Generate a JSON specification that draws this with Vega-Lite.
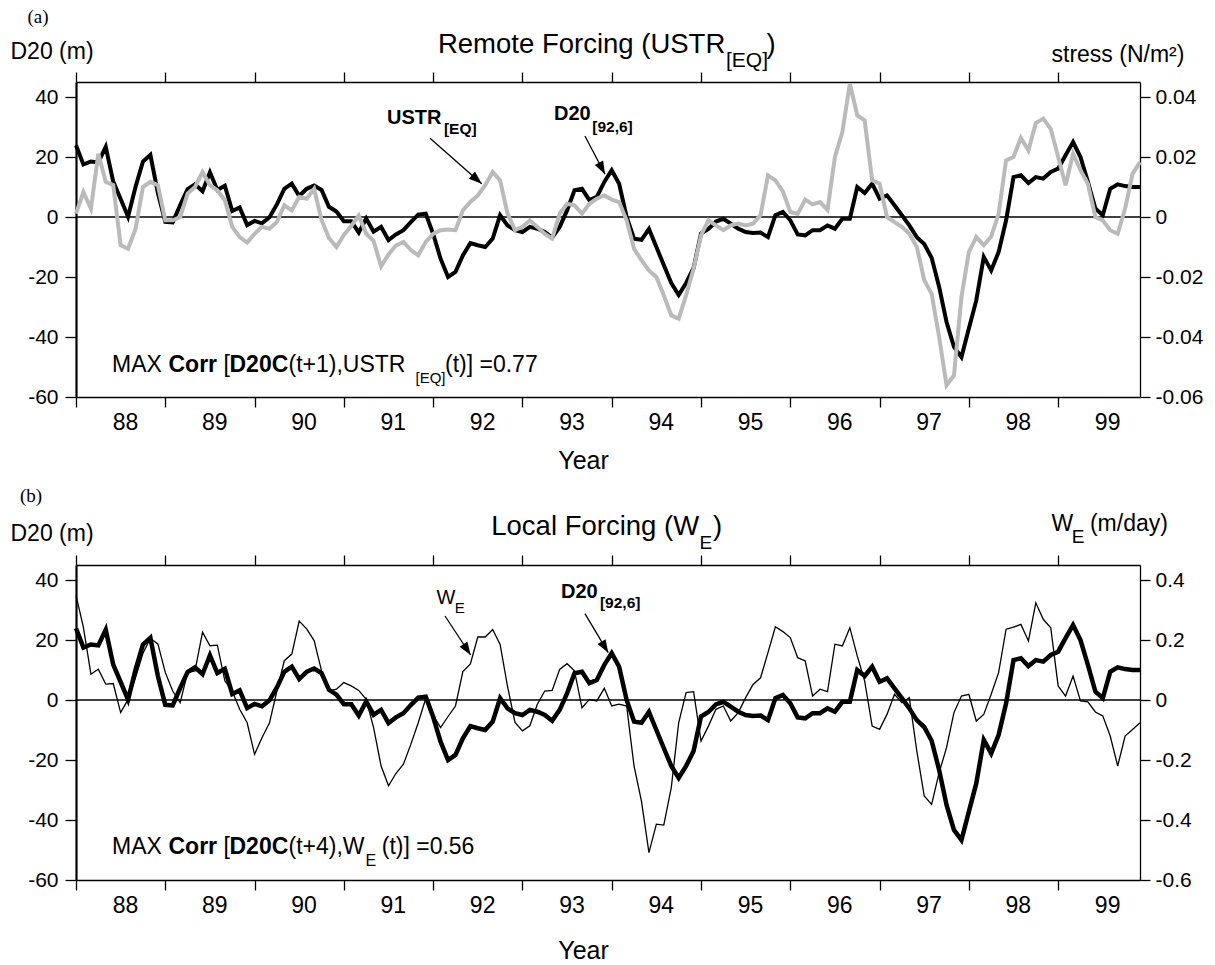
{
  "$schema": "https://vega.github.io/schema/vega-lite/v6.json",
  "background": "white",
  "padding": {"left": 10, "top": 7, "right": 5, "bottom": 5},
  "autosize": {"type": "pad"},
  "spacing": 168,
  "bounds": "flush",
  "datasets": {
    "monthly": [
      {"t":1988.000,"d20":23.9,"ustr":0.0011,"we":0.349},
      {"t":1988.083,"d20":17.5,"ustr":0.0083,"we":0.242},
      {"t":1988.167,"d20":18.5,"ustr":0.0028,"we":0.086},
      {"t":1988.250,"d20":18.2,"ustr":0.0211,"we":0.103},
      {"t":1988.333,"d20":23.4,"ustr":0.0117,"we":0.053},
      {"t":1988.417,"d20":11.8,"ustr":0.0106,"we":0.055},
      {"t":1988.500,"d20":6.0,"ustr":-0.0094,"we":-0.042},
      {"t":1988.583,"d20":0.1,"ustr":-0.0106,"we":0.002},
      {"t":1988.667,"d20":10.1,"ustr":-0.0039,"we":0.075},
      {"t":1988.750,"d20":18.5,"ustr":0.0100,"we":0.156},
      {"t":1988.833,"d20":20.7,"ustr":0.0117,"we":0.205},
      {"t":1988.917,"d20":8.0,"ustr":0.0106,"we":0.187},
      {"t":1989.000,"d20":-1.6,"ustr":-0.0011,"we":0.092},
      {"t":1989.083,"d20":-1.8,"ustr":-0.0011,"we":0.030},
      {"t":1989.167,"d20":4.0,"ustr":0.0000,"we":-0.009},
      {"t":1989.250,"d20":9.3,"ustr":0.0078,"we":0.092},
      {"t":1989.333,"d20":10.9,"ustr":0.0100,"we":0.097},
      {"t":1989.417,"d20":8.6,"ustr":0.0150,"we":0.226},
      {"t":1989.500,"d20":14.9,"ustr":0.0106,"we":0.181},
      {"t":1989.583,"d20":9.0,"ustr":0.0089,"we":0.183},
      {"t":1989.667,"d20":10.4,"ustr":0.0056,"we":0.064},
      {"t":1989.750,"d20":2.0,"ustr":-0.0033,"we":0.030},
      {"t":1989.833,"d20":3.2,"ustr":-0.0067,"we":-0.031},
      {"t":1989.917,"d20":-2.7,"ustr":-0.0085,"we":-0.076},
      {"t":1990.000,"d20":-1.3,"ustr":-0.0056,"we":-0.181},
      {"t":1990.083,"d20":-2.1,"ustr":-0.0033,"we":-0.126},
      {"t":1990.167,"d20":-0.1,"ustr":-0.0039,"we":-0.076},
      {"t":1990.250,"d20":4.2,"ustr":-0.0017,"we":0.030},
      {"t":1990.333,"d20":9.4,"ustr":0.0039,"we":0.131},
      {"t":1990.417,"d20":11.1,"ustr":0.0022,"we":0.153},
      {"t":1990.500,"d20":7.0,"ustr":0.0067,"we":0.263},
      {"t":1990.583,"d20":9.4,"ustr":0.0061,"we":0.237},
      {"t":1990.667,"d20":10.5,"ustr":0.0094,"we":0.198},
      {"t":1990.750,"d20":9.0,"ustr":-0.0010,"we":0.097},
      {"t":1990.833,"d20":3.4,"ustr":-0.0070,"we":0.030},
      {"t":1990.917,"d20":1.8,"ustr":-0.0100,"we":0.036},
      {"t":1991.000,"d20":-1.4,"ustr":-0.0060,"we":0.058},
      {"t":1991.083,"d20":-1.4,"ustr":-0.0030,"we":0.047},
      {"t":1991.167,"d20":-5.2,"ustr":0.0005,"we":0.032},
      {"t":1991.250,"d20":-0.5,"ustr":-0.0055,"we":0.002},
      {"t":1991.333,"d20":-4.9,"ustr":-0.0080,"we":-0.092},
      {"t":1991.417,"d20":-3.3,"ustr":-0.0165,"we":-0.220},
      {"t":1991.500,"d20":-7.7,"ustr":-0.0125,"we":-0.286},
      {"t":1991.583,"d20":-5.8,"ustr":-0.0095,"we":-0.245},
      {"t":1991.667,"d20":-4.4,"ustr":-0.0083,"we":-0.214},
      {"t":1991.750,"d20":-1.7,"ustr":-0.0110,"we":-0.148},
      {"t":1991.833,"d20":0.8,"ustr":-0.0128,"we":-0.076},
      {"t":1991.917,"d20":1.1,"ustr":-0.0083,"we":0.005},
      {"t":1992.000,"d20":-5.6,"ustr":-0.0056,"we":-0.050},
      {"t":1992.083,"d20":-13.9,"ustr":-0.0044,"we":-0.092},
      {"t":1992.167,"d20":-20.0,"ustr":-0.0042,"we":-0.055},
      {"t":1992.250,"d20":-18.3,"ustr":-0.0044,"we":-0.020},
      {"t":1992.333,"d20":-12.8,"ustr":0.0022,"we":0.095},
      {"t":1992.417,"d20":-8.7,"ustr":0.0050,"we":0.120},
      {"t":1992.500,"d20":-9.4,"ustr":0.0072,"we":0.210},
      {"t":1992.583,"d20":-10.0,"ustr":0.0106,"we":0.210},
      {"t":1992.667,"d20":-7.2,"ustr":0.0150,"we":0.235},
      {"t":1992.750,"d20":0.6,"ustr":0.0122,"we":0.185},
      {"t":1992.833,"d20":-2.8,"ustr":0.0011,"we":0.045},
      {"t":1992.917,"d20":-4.4,"ustr":-0.0044,"we":-0.075},
      {"t":1993.000,"d20":-5.0,"ustr":-0.0033,"we":-0.103},
      {"t":1993.083,"d20":-3.3,"ustr":-0.0011,"we":-0.086},
      {"t":1993.167,"d20":-3.9,"ustr":-0.0033,"we":-0.014},
      {"t":1993.250,"d20":-5.0,"ustr":-0.0056,"we":0.030},
      {"t":1993.333,"d20":-6.9,"ustr":-0.0072,"we":0.032},
      {"t":1993.417,"d20":-3.3,"ustr":0.0011,"we":0.102},
      {"t":1993.500,"d20":2.2,"ustr":0.0044,"we":0.121},
      {"t":1993.583,"d20":8.9,"ustr":0.0039,"we":0.097},
      {"t":1993.667,"d20":9.4,"ustr":0.0011,"we":-0.026},
      {"t":1993.750,"d20":5.6,"ustr":0.0044,"we":0.002},
      {"t":1993.833,"d20":6.7,"ustr":0.0061,"we":-0.003},
      {"t":1993.917,"d20":11.7,"ustr":0.0072,"we":0.039},
      {"t":1994.000,"d20":15.6,"ustr":0.0058,"we":-0.020},
      {"t":1994.083,"d20":11.1,"ustr":0.0050,"we":-0.014},
      {"t":1994.167,"d20":0.0,"ustr":-0.0011,"we":-0.020},
      {"t":1994.250,"d20":-7.2,"ustr":-0.0106,"we":-0.220},
      {"t":1994.333,"d20":-7.6,"ustr":-0.0144,"we":-0.337},
      {"t":1994.417,"d20":-4.0,"ustr":-0.0178,"we":-0.509},
      {"t":1994.500,"d20":-10.0,"ustr":-0.0200,"we":-0.414},
      {"t":1994.583,"d20":-16.0,"ustr":-0.0261,"we":-0.417},
      {"t":1994.667,"d20":-22.0,"ustr":-0.0328,"we":-0.292},
      {"t":1994.750,"d20":-26.0,"ustr":-0.0339,"we":-0.076},
      {"t":1994.833,"d20":-22.0,"ustr":-0.0261,"we":0.025},
      {"t":1994.917,"d20":-17.0,"ustr":-0.0172,"we":0.028},
      {"t":1995.000,"d20":-5.5,"ustr":-0.0061,"we":-0.137},
      {"t":1995.083,"d20":-4.0,"ustr":-0.0011,"we":-0.087},
      {"t":1995.167,"d20":-1.5,"ustr":-0.0028,"we":-0.031},
      {"t":1995.250,"d20":-0.6,"ustr":-0.0044,"we":-0.020},
      {"t":1995.333,"d20":-2.2,"ustr":-0.0028,"we":-0.070},
      {"t":1995.417,"d20":-3.9,"ustr":-0.0022,"we":-0.042},
      {"t":1995.500,"d20":-5.0,"ustr":-0.0028,"we":0.008},
      {"t":1995.583,"d20":-5.3,"ustr":-0.0022,"we":0.052},
      {"t":1995.667,"d20":-5.2,"ustr":0.0006,"we":0.074},
      {"t":1995.750,"d20":-6.7,"ustr":0.0139,"we":0.158},
      {"t":1995.833,"d20":0.6,"ustr":0.0122,"we":0.244},
      {"t":1995.917,"d20":1.7,"ustr":0.0085,"we":0.228},
      {"t":1996.000,"d20":-1.1,"ustr":0.0017,"we":0.208},
      {"t":1996.083,"d20":-5.8,"ustr":0.0010,"we":0.141},
      {"t":1996.167,"d20":-6.1,"ustr":0.0058,"we":0.130},
      {"t":1996.250,"d20":-4.4,"ustr":0.0042,"we":0.013},
      {"t":1996.333,"d20":-4.4,"ustr":0.0050,"we":0.036},
      {"t":1996.417,"d20":-2.8,"ustr":0.0024,"we":0.028},
      {"t":1996.500,"d20":-3.9,"ustr":0.0200,"we":0.186},
      {"t":1996.583,"d20":-0.6,"ustr":0.0283,"we":0.180},
      {"t":1996.667,"d20":-0.6,"ustr":0.0444,"we":0.241},
      {"t":1996.750,"d20":10.0,"ustr":0.0339,"we":0.147},
      {"t":1996.833,"d20":8.0,"ustr":0.0322,"we":0.063},
      {"t":1996.917,"d20":11.1,"ustr":0.0122,"we":-0.087},
      {"t":1997.000,"d20":6.1,"ustr":0.0111,"we":-0.098},
      {"t":1997.083,"d20":7.2,"ustr":0.0000,"we":-0.048},
      {"t":1997.167,"d20":3.9,"ustr":-0.0017,"we":0.019},
      {"t":1997.250,"d20":0.6,"ustr":-0.0033,"we":-0.009},
      {"t":1997.333,"d20":-2.8,"ustr":-0.0056,"we":0.008},
      {"t":1997.417,"d20":-6.7,"ustr":-0.0100,"we":-0.170},
      {"t":1997.500,"d20":-9.0,"ustr":-0.0210,"we":-0.320},
      {"t":1997.583,"d20":-13.6,"ustr":-0.0256,"we":-0.348},
      {"t":1997.667,"d20":-23.3,"ustr":-0.0400,"we":-0.242},
      {"t":1997.750,"d20":-35.0,"ustr":-0.0561,"we":-0.159},
      {"t":1997.833,"d20":-43.3,"ustr":-0.0528,"we":-0.042},
      {"t":1997.917,"d20":-46.7,"ustr":-0.0267,"we":0.013},
      {"t":1998.000,"d20":-37.2,"ustr":-0.0117,"we":0.019},
      {"t":1998.083,"d20":-27.8,"ustr":-0.0067,"we":-0.070},
      {"t":1998.167,"d20":-13.3,"ustr":-0.0094,"we":-0.048},
      {"t":1998.250,"d20":-17.8,"ustr":-0.0065,"we":0.019},
      {"t":1998.333,"d20":-11.7,"ustr":0.0011,"we":0.091},
      {"t":1998.417,"d20":-1.1,"ustr":0.0189,"we":0.236},
      {"t":1998.500,"d20":13.3,"ustr":0.0200,"we":0.243},
      {"t":1998.583,"d20":13.9,"ustr":0.0264,"we":0.252},
      {"t":1998.667,"d20":11.3,"ustr":0.0222,"we":0.197},
      {"t":1998.750,"d20":13.3,"ustr":0.0313,"we":0.324},
      {"t":1998.833,"d20":12.8,"ustr":0.0328,"we":0.269},
      {"t":1998.917,"d20":15.0,"ustr":0.0294,"we":0.241},
      {"t":1999.000,"d20":16.1,"ustr":0.0200,"we":0.047},
      {"t":1999.083,"d20":20.6,"ustr":0.0106,"we":0.013},
      {"t":1999.167,"d20":25.0,"ustr":0.0211,"we":0.080},
      {"t":1999.250,"d20":20.0,"ustr":0.0156,"we":-0.003},
      {"t":1999.333,"d20":11.7,"ustr":0.0111,"we":-0.006},
      {"t":1999.417,"d20":2.8,"ustr":0.0000,"we":-0.040},
      {"t":1999.500,"d20":0.6,"ustr":-0.0011,"we":-0.053},
      {"t":1999.583,"d20":9.4,"ustr":-0.0044,"we":-0.120},
      {"t":1999.667,"d20":10.9,"ustr":-0.0056,"we":-0.220},
      {"t":1999.750,"d20":10.3,"ustr":0.0028,"we":-0.120},
      {"t":1999.833,"d20":10.0,"ustr":0.0144,"we":-0.098},
      {"t":1999.917,"d20":10.0,"ustr":0.0183,"we":-0.076}
    ],
    "labels_a": [
      {"role":"tag","text":"(a)","t":1987.457,"v":64.77},
      {"role":"title","text":"Remote Forcing (USTR","t":1992.054,"v":54.6},
      {"role":"title","text":")","t":1995.733,"v":54.6},
      {"role":"title_sub","text":"[EQ]","t":1995.280,"v":50.1},
      {"role":"label","text":"USTR","t":1991.483,"v":30.9},
      {"role":"label","text":"D20","t":1993.353,"v":32.23},
      {"role":"label_sub","text":"[EQ]","t":1992.121,"v":27.77},
      {"role":"label_sub","text":"[92,6]","t":1993.782,"v":28.43},
      {"role":"note","text":"MAX","t":1988.403,"v":-51.57},
      {"role":"note_bold","text":"Corr","t":1989.036,"v":-51.57},
      {"role":"note","text":"[","t":1989.652,"v":-51.57},
      {"role":"note_bold","text":"D20C","t":1989.719,"v":-51.57},
      {"role":"note","text":"(t+1),USTR","t":1990.380,"v":-51.57},
      {"role":"note_sub","text":"[EQ]","t":1991.802,"v":-55.23},
      {"role":"note","text":"(t)] =0.77","t":1992.133,"v":-51.57}
    ],
    "labels_b": [
      {"role":"tag","text":"(b)","t":1987.373,"v":66.1},
      {"role":"title","text":"Local Forcing (W","t":1992.651,"v":54.9},
      {"role":"title","text":")","t":1995.134,"v":54.9},
      {"role":"title_sub","text":"E","t":1994.983,"v":50.43},
      {"role":"label_plain","text":"W","t":1992.037,"v":32.1},
      {"role":"label_plain_sub","text":"E","t":1992.242,"v":29.1},
      {"role":"label","text":"D20","t":1993.432,"v":33.9},
      {"role":"label_sub","text":"[92,6]","t":1993.868,"v":30.77},
      {"role":"note","text":"MAX","t":1988.403,"v":-51.43},
      {"role":"note_bold","text":"Corr","t":1989.036,"v":-51.43},
      {"role":"note","text":"[","t":1989.652,"v":-51.43},
      {"role":"note_bold","text":"D20C","t":1989.719,"v":-51.43},
      {"role":"note","text":"(t+4),W","t":1990.380,"v":-51.43},
      {"role":"note_sub","text":"E","t":1991.241,"v":-55.33},
      {"role":"note","text":"(t)] =0.56","t":1991.424,"v":-51.43},
      {"role":"unit","text":"W","t":1998.925,"v":56.33},
      {"role":"unit_sub","text":"E","t":1999.152,"v":52.43},
      {"role":"unit","text":"(m/day)","t":1999.356,"v":56.33}
    ],
    "arrows_a": [
      {"name":"ustr","t":1991.965,"v":26.23,"t2":1992.544,"v2":11.1},
      {"name":"d20","t":1993.700,"v":27.0,"t2":1993.925,"v2":14.23}
    ],
    "arrows_b": [
      {"name":"we","t":1992.133,"v":28.0,"t2":1992.420,"v2":15.0},
      {"name":"d20","t":1993.700,"v":28.77,"t2":1993.961,"v2":15.77}
    ]
  },
  "vconcat": [
    {
      "width": 1064,
      "height": 315,
      "layer": [
        {
          "layer": [
            {
              "data": {"values": [{}]},
              "mark": {"type": "rule", "color": "#000", "strokeWidth": 1.7},
              "encoding": {"y": {"datum": 0, "type": "quantitative", "scale": {"domain": [-60, 45], "nice": false, "zero": false}}}
            },
            {
              "data": {"name": "monthly"},
              "mark": {"type": "line", "color": "#000", "strokeWidth": 4},
              "encoding": {
                "x": {"field": "t", "type": "quantitative", "scale": {"domain": [1988, 1999.9167], "nice": false, "zero": false},
                  "axis": {"orient": "bottom", "values": [1988,1989,1990,1991,1992,1993,1994,1995,1996,1997,1998,1999], "labelExpr": "substring(toString(datum.value), 2)", "labelOffset": 49, "labelFontSize": 23, "labelBaseline": "alphabetic", "labelPadding": 22, "labelOverlap": false, "labelFlush": false, "labelBound": false, "tickSize": 10, "tickWidth": 1.3, "domainWidth": 1.7, "title": "Year", "titleFontSize": 25, "titleX": 507, "titleY": 71, "titleAlign": "center", "titleBaseline": "alphabetic"}},
                "y": {"field": "d20", "type": "quantitative", "scale": {"domain": [-60, 45], "nice": false, "zero": false},
                  "axis": {"orient": "left", "values": [-60,-40,-20,0,20,40], "labelExpr": "toString(datum.value)", "labelFontSize": 21, "labelPadding": 7, "labelFlush": false, "tickSize": 11, "tickWidth": 1.3, "domainWidth": 2.2, "title": "D20 (m)", "titleAngle": 0, "titleX": -66, "titleY": -24, "titleAlign": "left", "titleBaseline": "alphabetic", "titleFontSize": 23}}
              }
            },
            {
              "data": {"name": "arrows_a"},
              "mark": {"type": "rule", "color": "#000", "strokeWidth": 1.3},
              "encoding": {
                "x": {"field": "t", "type": "quantitative", "scale": {"domain": [1988, 1999.9167], "nice": false, "zero": false}},
                "y": {"field": "v", "type": "quantitative", "scale": {"domain": [-60, 45], "nice": false, "zero": false}},
                "x2": {"field": "t2"},
                "y2": {"field": "v2"}
              }
            },
            {
              "data": {"name": "arrows_a"},
              "transform": [{"filter": "datum.name === 'ustr'"}],
              "mark": {"type": "point", "shape": "M0,0L-1,-0.36L-1,0.36Z", "size": 676, "angle": 41.3, "filled": true, "color": "#000", "opacity": 1},
              "encoding": {
                "x": {"field": "t2", "type": "quantitative", "scale": {"domain": [1988, 1999.9167], "nice": false, "zero": false}},
                "y": {"field": "v2", "type": "quantitative", "scale": {"domain": [-60, 45], "nice": false, "zero": false}}
              }
            },
            {
              "data": {"name": "arrows_a"},
              "transform": [{"filter": "datum.name === 'd20'"}],
              "mark": {"type": "point", "shape": "M0,0L-1,-0.36L-1,0.36Z", "size": 676, "angle": 62.4, "filled": true, "color": "#000", "opacity": 1},
              "encoding": {
                "x": {"field": "t2", "type": "quantitative", "scale": {"domain": [1988, 1999.9167], "nice": false, "zero": false}},
                "y": {"field": "v2", "type": "quantitative", "scale": {"domain": [-60, 45], "nice": false, "zero": false}}
              }
            },
            {
              "data": {"name": "labels_a"},
              "transform": [{"filter": "datum.role === 'tag'"}],
              "mark": {"type": "text", "align": "left", "baseline": "alphabetic", "font": "Liberation Serif", "fontSize": 19, "color": "#000"},
              "encoding": {
                "x": {"field": "t", "type": "quantitative", "scale": {"domain": [1988, 1999.9167], "nice": false, "zero": false}},
                "y": {"field": "v", "type": "quantitative", "scale": {"domain": [-60, 45], "nice": false, "zero": false}},
                "text": {"field": "text"}
              }
            },
            {
              "data": {"name": "labels_a"},
              "transform": [{"filter": "datum.role === 'title'"}],
              "mark": {"type": "text", "align": "left", "baseline": "alphabetic", "fontSize": 27.5, "color": "#000"},
              "encoding": {
                "x": {"field": "t", "type": "quantitative", "scale": {"domain": [1988, 1999.9167], "nice": false, "zero": false}},
                "y": {"field": "v", "type": "quantitative", "scale": {"domain": [-60, 45], "nice": false, "zero": false}},
                "text": {"field": "text"}
              }
            },
            {
              "data": {"name": "labels_a"},
              "transform": [{"filter": "datum.role === 'title_sub'"}],
              "mark": {"type": "text", "align": "left", "baseline": "alphabetic", "fontSize": 21, "color": "#000"},
              "encoding": {
                "x": {"field": "t", "type": "quantitative", "scale": {"domain": [1988, 1999.9167], "nice": false, "zero": false}},
                "y": {"field": "v", "type": "quantitative", "scale": {"domain": [-60, 45], "nice": false, "zero": false}},
                "text": {"field": "text"}
              }
            },
            {
              "data": {"name": "labels_a"},
              "transform": [{"filter": "datum.role === 'label'"}],
              "mark": {"type": "text", "align": "left", "baseline": "alphabetic", "fontSize": 20, "fontWeight": "bold", "color": "#000"},
              "encoding": {
                "x": {"field": "t", "type": "quantitative", "scale": {"domain": [1988, 1999.9167], "nice": false, "zero": false}},
                "y": {"field": "v", "type": "quantitative", "scale": {"domain": [-60, 45], "nice": false, "zero": false}},
                "text": {"field": "text"}
              }
            },
            {
              "data": {"name": "labels_a"},
              "transform": [{"filter": "datum.role === 'label_sub'"}],
              "mark": {"type": "text", "align": "left", "baseline": "alphabetic", "fontSize": 15.5, "fontWeight": "bold", "color": "#000"},
              "encoding": {
                "x": {"field": "t", "type": "quantitative", "scale": {"domain": [1988, 1999.9167], "nice": false, "zero": false}},
                "y": {"field": "v", "type": "quantitative", "scale": {"domain": [-60, 45], "nice": false, "zero": false}},
                "text": {"field": "text"}
              }
            },
            {
              "data": {"name": "labels_a"},
              "transform": [{"filter": "datum.role === 'note'"}],
              "mark": {"type": "text", "align": "left", "baseline": "alphabetic", "fontSize": 23, "color": "#000"},
              "encoding": {
                "x": {"field": "t", "type": "quantitative", "scale": {"domain": [1988, 1999.9167], "nice": false, "zero": false}},
                "y": {"field": "v", "type": "quantitative", "scale": {"domain": [-60, 45], "nice": false, "zero": false}},
                "text": {"field": "text"}
              }
            },
            {
              "data": {"name": "labels_a"},
              "transform": [{"filter": "datum.role === 'note_bold'"}],
              "mark": {"type": "text", "align": "left", "baseline": "alphabetic", "fontSize": 23, "fontWeight": "bold", "color": "#000"},
              "encoding": {
                "x": {"field": "t", "type": "quantitative", "scale": {"domain": [1988, 1999.9167], "nice": false, "zero": false}},
                "y": {"field": "v", "type": "quantitative", "scale": {"domain": [-60, 45], "nice": false, "zero": false}},
                "text": {"field": "text"}
              }
            },
            {
              "data": {"name": "labels_a"},
              "transform": [{"filter": "datum.role === 'note_sub'"}],
              "mark": {"type": "text", "align": "left", "baseline": "alphabetic", "fontSize": 15, "color": "#000"},
              "encoding": {
                "x": {"field": "t", "type": "quantitative", "scale": {"domain": [1988, 1999.9167], "nice": false, "zero": false}},
                "y": {"field": "v", "type": "quantitative", "scale": {"domain": [-60, 45], "nice": false, "zero": false}},
                "text": {"field": "text"}
              }
            }
          ]
        },
        {
          "data": {"name": "monthly"},
          "mark": {"type": "line", "color": "#bababa", "strokeWidth": 4},
          "encoding": {
            "x": {"field": "t", "type": "quantitative", "scale": {"domain": [1988, 1999.9167], "nice": false, "zero": false},
              "axis": {"orient": "top", "values": [1988,1989,1990,1991,1992,1993,1994,1995,1996,1997,1998,1999], "labels": false, "tickSize": 10, "tickWidth": 1.3, "domainWidth": 1.3, "title": null}},
            "y": {"field": "ustr", "type": "quantitative", "scale": {"domain": [-0.06, 0.045], "nice": false, "zero": false},
              "axis": {"orient": "right", "values": [-0.06,-0.04,-0.02,0,0.02,0.04], "labelExpr": "toString(datum.value)", "labelFontSize": 21, "labelPadding": 5, "labelFlush": false, "tickSize": 10, "tickWidth": 1.3, "domainWidth": 1.3, "title": "stress (N/m²)", "titleAngle": 0, "titleX": -89, "titleY": -21, "titleAlign": "left", "titleBaseline": "alphabetic", "titleFontSize": 23}}
          }
        }
      ],
      "resolve": {"scale": {"y": "independent"}, "axis": {"x": "independent", "y": "independent"}}
    },
    {
      "width": 1064,
      "height": 315,
      "layer": [
        {
          "layer": [
            {
              "data": {"values": [{}]},
              "mark": {"type": "rule", "color": "#000", "strokeWidth": 1.7},
              "encoding": {"y": {"datum": 0, "type": "quantitative", "scale": {"domain": [-60, 45], "nice": false, "zero": false}}}
            },
            {
              "data": {"name": "monthly"},
              "mark": {"type": "line", "color": "#000", "strokeWidth": 4.5},
              "encoding": {
                "x": {"field": "t", "type": "quantitative", "scale": {"domain": [1988, 1999.9167], "nice": false, "zero": false},
                  "axis": {"orient": "bottom", "values": [1988,1989,1990,1991,1992,1993,1994,1995,1996,1997,1998,1999], "labelExpr": "substring(toString(datum.value), 2)", "labelOffset": 49, "labelFontSize": 23, "labelBaseline": "alphabetic", "labelPadding": 22, "labelOverlap": false, "labelFlush": false, "labelBound": false, "tickSize": 10, "tickWidth": 1.3, "domainWidth": 1.7, "title": "Year", "titleFontSize": 25, "titleX": 507, "titleY": 78, "titleAlign": "center", "titleBaseline": "alphabetic"}},
                "y": {"field": "d20", "type": "quantitative", "scale": {"domain": [-60, 45], "nice": false, "zero": false},
                  "axis": {"orient": "left", "values": [-60,-40,-20,0,20,40], "labelExpr": "toString(datum.value)", "labelFontSize": 21, "labelPadding": 7, "labelFlush": false, "tickSize": 11, "tickWidth": 1.3, "domainWidth": 2.2, "title": "D20 (m)", "titleAngle": 0, "titleX": -66, "titleY": -25, "titleAlign": "left", "titleBaseline": "alphabetic", "titleFontSize": 23}}
              }
            },
            {
              "data": {"name": "arrows_b"},
              "mark": {"type": "rule", "color": "#000", "strokeWidth": 1.3},
              "encoding": {
                "x": {"field": "t", "type": "quantitative", "scale": {"domain": [1988, 1999.9167], "nice": false, "zero": false}},
                "y": {"field": "v", "type": "quantitative", "scale": {"domain": [-60, 45], "nice": false, "zero": false}},
                "x2": {"field": "t2"},
                "y2": {"field": "v2"}
              }
            },
            {
              "data": {"name": "arrows_b"},
              "transform": [{"filter": "datum.name === 'we'"}],
              "mark": {"type": "point", "shape": "M0,0L-1,-0.36L-1,0.36Z", "size": 676, "angle": 56.6, "filled": true, "color": "#000", "opacity": 1},
              "encoding": {
                "x": {"field": "t2", "type": "quantitative", "scale": {"domain": [1988, 1999.9167], "nice": false, "zero": false}},
                "y": {"field": "v2", "type": "quantitative", "scale": {"domain": [-60, 45], "nice": false, "zero": false}}
              }
            },
            {
              "data": {"name": "arrows_b"},
              "transform": [{"filter": "datum.name === 'd20'"}],
              "mark": {"type": "point", "shape": "M0,0L-1,-0.36L-1,0.36Z", "size": 676, "angle": 59.1, "filled": true, "color": "#000", "opacity": 1},
              "encoding": {
                "x": {"field": "t2", "type": "quantitative", "scale": {"domain": [1988, 1999.9167], "nice": false, "zero": false}},
                "y": {"field": "v2", "type": "quantitative", "scale": {"domain": [-60, 45], "nice": false, "zero": false}}
              }
            },
            {
              "data": {"name": "labels_b"},
              "transform": [{"filter": "datum.role === 'tag'"}],
              "mark": {"type": "text", "align": "left", "baseline": "alphabetic", "font": "Liberation Serif", "fontSize": 19, "color": "#000"},
              "encoding": {
                "x": {"field": "t", "type": "quantitative", "scale": {"domain": [1988, 1999.9167], "nice": false, "zero": false}},
                "y": {"field": "v", "type": "quantitative", "scale": {"domain": [-60, 45], "nice": false, "zero": false}},
                "text": {"field": "text"}
              }
            },
            {
              "data": {"name": "labels_b"},
              "transform": [{"filter": "datum.role === 'title'"}],
              "mark": {"type": "text", "align": "left", "baseline": "alphabetic", "fontSize": 27.5, "color": "#000"},
              "encoding": {
                "x": {"field": "t", "type": "quantitative", "scale": {"domain": [1988, 1999.9167], "nice": false, "zero": false}},
                "y": {"field": "v", "type": "quantitative", "scale": {"domain": [-60, 45], "nice": false, "zero": false}},
                "text": {"field": "text"}
              }
            },
            {
              "data": {"name": "labels_b"},
              "transform": [{"filter": "datum.role === 'title_sub'"}],
              "mark": {"type": "text", "align": "left", "baseline": "alphabetic", "fontSize": 19, "color": "#000"},
              "encoding": {
                "x": {"field": "t", "type": "quantitative", "scale": {"domain": [1988, 1999.9167], "nice": false, "zero": false}},
                "y": {"field": "v", "type": "quantitative", "scale": {"domain": [-60, 45], "nice": false, "zero": false}},
                "text": {"field": "text"}
              }
            },
            {
              "data": {"name": "labels_b"},
              "transform": [{"filter": "datum.role === 'label_plain'"}],
              "mark": {"type": "text", "align": "left", "baseline": "alphabetic", "fontSize": 20, "color": "#000"},
              "encoding": {
                "x": {"field": "t", "type": "quantitative", "scale": {"domain": [1988, 1999.9167], "nice": false, "zero": false}},
                "y": {"field": "v", "type": "quantitative", "scale": {"domain": [-60, 45], "nice": false, "zero": false}},
                "text": {"field": "text"}
              }
            },
            {
              "data": {"name": "labels_b"},
              "transform": [{"filter": "datum.role === 'label_plain_sub'"}],
              "mark": {"type": "text", "align": "left", "baseline": "alphabetic", "fontSize": 15, "color": "#000"},
              "encoding": {
                "x": {"field": "t", "type": "quantitative", "scale": {"domain": [1988, 1999.9167], "nice": false, "zero": false}},
                "y": {"field": "v", "type": "quantitative", "scale": {"domain": [-60, 45], "nice": false, "zero": false}},
                "text": {"field": "text"}
              }
            },
            {
              "data": {"name": "labels_b"},
              "transform": [{"filter": "datum.role === 'label'"}],
              "mark": {"type": "text", "align": "left", "baseline": "alphabetic", "fontSize": 20, "fontWeight": "bold", "color": "#000"},
              "encoding": {
                "x": {"field": "t", "type": "quantitative", "scale": {"domain": [1988, 1999.9167], "nice": false, "zero": false}},
                "y": {"field": "v", "type": "quantitative", "scale": {"domain": [-60, 45], "nice": false, "zero": false}},
                "text": {"field": "text"}
              }
            },
            {
              "data": {"name": "labels_b"},
              "transform": [{"filter": "datum.role === 'label_sub'"}],
              "mark": {"type": "text", "align": "left", "baseline": "alphabetic", "fontSize": 15.5, "fontWeight": "bold", "color": "#000"},
              "encoding": {
                "x": {"field": "t", "type": "quantitative", "scale": {"domain": [1988, 1999.9167], "nice": false, "zero": false}},
                "y": {"field": "v", "type": "quantitative", "scale": {"domain": [-60, 45], "nice": false, "zero": false}},
                "text": {"field": "text"}
              }
            },
            {
              "data": {"name": "labels_b"},
              "transform": [{"filter": "datum.role === 'note'"}],
              "mark": {"type": "text", "align": "left", "baseline": "alphabetic", "fontSize": 23, "color": "#000"},
              "encoding": {
                "x": {"field": "t", "type": "quantitative", "scale": {"domain": [1988, 1999.9167], "nice": false, "zero": false}},
                "y": {"field": "v", "type": "quantitative", "scale": {"domain": [-60, 45], "nice": false, "zero": false}},
                "text": {"field": "text"}
              }
            },
            {
              "data": {"name": "labels_b"},
              "transform": [{"filter": "datum.role === 'note_bold'"}],
              "mark": {"type": "text", "align": "left", "baseline": "alphabetic", "fontSize": 23, "fontWeight": "bold", "color": "#000"},
              "encoding": {
                "x": {"field": "t", "type": "quantitative", "scale": {"domain": [1988, 1999.9167], "nice": false, "zero": false}},
                "y": {"field": "v", "type": "quantitative", "scale": {"domain": [-60, 45], "nice": false, "zero": false}},
                "text": {"field": "text"}
              }
            },
            {
              "data": {"name": "labels_b"},
              "transform": [{"filter": "datum.role === 'note_sub'"}],
              "mark": {"type": "text", "align": "left", "baseline": "alphabetic", "fontSize": 16, "color": "#000"},
              "encoding": {
                "x": {"field": "t", "type": "quantitative", "scale": {"domain": [1988, 1999.9167], "nice": false, "zero": false}},
                "y": {"field": "v", "type": "quantitative", "scale": {"domain": [-60, 45], "nice": false, "zero": false}},
                "text": {"field": "text"}
              }
            },
            {
              "data": {"name": "labels_b"},
              "transform": [{"filter": "datum.role === 'unit'"}],
              "mark": {"type": "text", "align": "left", "baseline": "alphabetic", "fontSize": 23, "color": "#000"},
              "encoding": {
                "x": {"field": "t", "type": "quantitative", "scale": {"domain": [1988, 1999.9167], "nice": false, "zero": false}},
                "y": {"field": "v", "type": "quantitative", "scale": {"domain": [-60, 45], "nice": false, "zero": false}},
                "text": {"field": "text"}
              }
            },
            {
              "data": {"name": "labels_b"},
              "transform": [{"filter": "datum.role === 'unit_sub'"}],
              "mark": {"type": "text", "align": "left", "baseline": "alphabetic", "fontSize": 19, "color": "#000"},
              "encoding": {
                "x": {"field": "t", "type": "quantitative", "scale": {"domain": [1988, 1999.9167], "nice": false, "zero": false}},
                "y": {"field": "v", "type": "quantitative", "scale": {"domain": [-60, 45], "nice": false, "zero": false}},
                "text": {"field": "text"}
              }
            }
          ]
        },
        {
          "data": {"name": "monthly"},
          "mark": {"type": "line", "color": "#000", "strokeWidth": 1.3},
          "encoding": {
            "x": {"field": "t", "type": "quantitative", "scale": {"domain": [1988, 1999.9167], "nice": false, "zero": false},
              "axis": {"orient": "top", "values": [1988,1989,1990,1991,1992,1993,1994,1995,1996,1997,1998,1999], "labels": false, "tickSize": 10, "tickWidth": 1.3, "domainWidth": 1.3, "title": null}},
            "y": {"field": "we", "type": "quantitative", "scale": {"domain": [-0.6, 0.45], "nice": false, "zero": false},
              "axis": {"orient": "right", "values": [-0.6,-0.4,-0.2,0,0.2,0.4], "labelExpr": "toString(datum.value)", "labelFontSize": 21, "labelPadding": 5, "labelFlush": false, "tickSize": 10, "tickWidth": 1.3, "domainWidth": 1.3, "title": null}}
          }
        }
      ],
      "resolve": {"scale": {"y": "independent"}, "axis": {"x": "independent", "y": "independent"}}
    }
  ],
  "config": {
    "view": {"stroke": null},
    "font": "Liberation Sans",
    "axis": {"grid": false, "domainColor": "#000", "tickColor": "#000", "labelColor": "#000", "titleColor": "#000", "labelFont": "Liberation Sans", "titleFont": "Liberation Sans", "titleFontWeight": "normal"},
    "text": {"font": "Liberation Sans"},
    "line": {"strokeJoin": "miter"}
  }
}
